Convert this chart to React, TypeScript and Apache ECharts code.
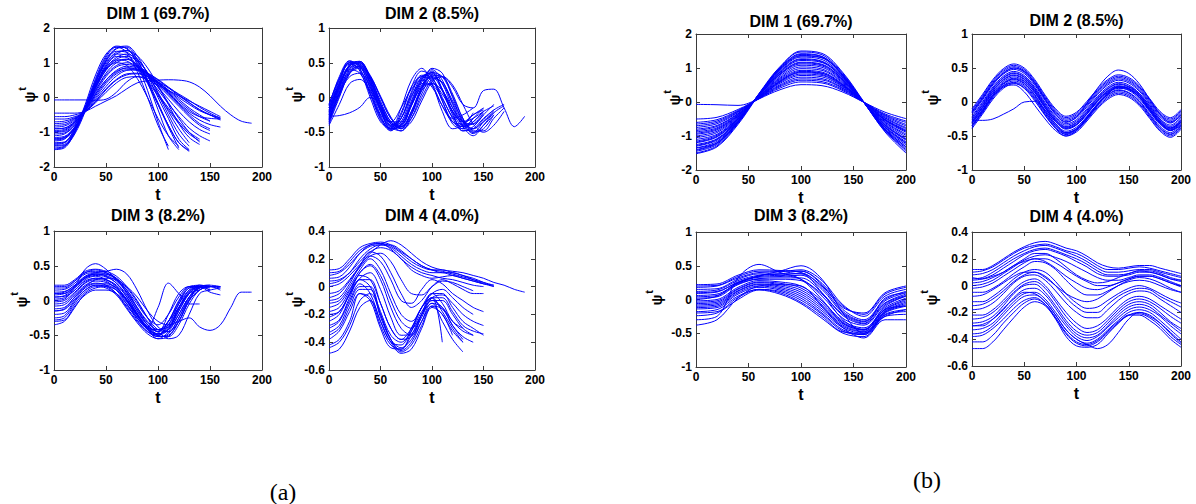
import React, { useEffect, useRef } from "react";
import * as echarts from "echarts";

// ---------- sampling steps (t spacing between consecutive values) ----------
const A_STEP = 10;
const B1_STEP = 20;
const B2_STEP = 10;
const B3_STEP = 20;
const B4_STEP = 10;

// ---------- tick labels ----------
const X_TICKS = [0, 50, 100, 150, 200];
const Y_TICKS_DIM1 = [-2, -1, 0, 1, 2];
const Y_TICKS_DIM23 = [-1, -0.5, 0, 0.5, 1];
const Y_TICKS_DIM4 = [-0.6, -0.4, -0.2, 0, 0.2, 0.4];

const TITLES = ["DIM 1 (69.7%)", "DIM 2 (8.5%)", "DIM 3 (8.2%)", "DIM 4 (4.0%)"];
const PANEL_LABELS = ["(a)", "(b)"];

// ---------- (a) curves, t = 0,10,20,... ----------
const A1_CURVES = [
  [-1.5, -1.45, -1.0, -0.3, 0.5, 1.15, 1.45, 1.42, 0.95, 0.2, -0.7, -1.5],
  [-1.4, -1.38, -1.0, -0.35, 0.45, 1.1, 1.42, 1.48, 1.2, 0.65, 0.0, -0.6, -1.2, -1.5],
  [-1.3, -1.28, -0.9, -0.3, 0.45, 1.05, 1.33, 1.3, 1.0, 0.45, -0.2, -0.85, -1.45],
  [-1.2, -1.15, -0.85, -0.35, 0.3, 0.85, 1.15, 1.25, 1.1, 0.7, 0.15, -0.4, -0.9, -1.3],
  [-1.1, -1.05, -0.8, -0.3, 0.35, 0.85, 1.08, 1.05, 0.8, 0.45, 0.05, -0.35, -0.75, -1.05, -1.25],
  [-1.0, -0.98, -0.75, -0.35, 0.2, 0.65, 0.92, 1.0, 0.9, 0.65, 0.3, -0.05, -0.4, -0.7, -0.92, -1.05],
  [-0.9, -0.88, -0.7, -0.35, 0.1, 0.5, 0.78, 0.9, 0.85, 0.7, 0.5, 0.28, 0.05, -0.15, -0.35, -0.5, -0.65],
  [-0.8, -0.78, -0.62, -0.38, 0.0, 0.4, 0.68, 0.8, 0.78, 0.65, 0.45, 0.22, 0.0, -0.2, -0.38, -0.5, -0.58],
  [-0.7, -0.68, -0.58, -0.4, -0.1, 0.25, 0.52, 0.68, 0.7, 0.6, 0.42, 0.2, -0.05, -0.3, -0.5, -0.68],
  [-0.55, -0.55, -0.5, -0.4, -0.15, 0.15, 0.42, 0.58, 0.6, 0.5, 0.35, 0.2, 0.05, -0.1, -0.25, -0.4, -0.55],
  [-1.45, -1.4, -0.95, -0.2, 0.65, 1.25, 1.45, 1.3, 0.75, 0.0, -0.8, -1.4],
  [-1.25, -1.2, -0.85, -0.3, 0.35, 0.82, 1.0, 0.92, 0.55, 0.0, -0.6, -1.1, -1.4],
  [-0.95, -0.92, -0.72, -0.3, 0.35, 0.9, 1.18, 1.15, 0.88, 0.5, 0.1, -0.3, -0.7, -1.0, -1.2],
  [-1.15, -1.12, -0.85, -0.4, 0.1, 0.5, 0.75, 0.85, 0.8, 0.6, 0.35, 0.05, -0.25, -0.55, -0.8, -0.95],
  [-0.45, -0.45, -0.45, -0.4, -0.25, -0.1, 0.05, 0.25, 0.42, 0.48, 0.5, 0.51, 0.5, 0.45, 0.3, 0.05, -0.25, -0.5, -0.68, -0.74],
  [-0.07, -0.07, -0.07, -0.07, -0.08, -0.05, 0.15, 0.45, 0.6, 0.55, 0.4, 0.15, -0.15, -0.4, -0.55, -0.6, -0.62],
  [-1.35, -1.3, -0.9, -0.25, 0.55, 1.2, 1.48, 1.4, 1.05, 0.5, -0.15, -0.8, -1.3, -1.55],
  [-0.85, -0.82, -0.65, -0.3, 0.2, 0.7, 1.0, 1.1, 0.95, 0.7, 0.4, 0.1, -0.2, -0.5, -0.75, -0.9],
  [-1.48, -1.42, -1.05, -0.4, 0.4, 1.05, 1.4, 1.45, 1.1, 0.45, -0.35, -1.1, -1.5],
  [-1.38, -1.35, -0.98, -0.32, 0.42, 1.0, 1.3, 1.35, 1.12, 0.7, 0.1, -0.5, -1.05, -1.4],
  [-1.22, -1.18, -0.9, -0.38, 0.25, 0.8, 1.1, 1.18, 1.05, 0.72, 0.3, -0.15, -0.6, -1.0, -1.28],
  [-1.05, -1.02, -0.78, -0.32, 0.28, 0.78, 1.05, 1.1, 0.92, 0.6, 0.22, -0.18, -0.55, -0.88, -1.1, -1.25],
  [-0.98, -0.95, -0.72, -0.38, 0.05, 0.45, 0.72, 0.85, 0.82, 0.68, 0.45, 0.18, -0.1, -0.35, -0.55, -0.68],
  [-0.75, -0.73, -0.6, -0.4, -0.05, 0.32, 0.62, 0.78, 0.8, 0.7, 0.52, 0.3, 0.08, -0.15, -0.35, -0.5, -0.62],
  [-1.32, -1.3, -0.95, -0.35, 0.35, 0.95, 1.25, 1.22, 0.9, 0.4, -0.2, -0.8, -1.3, -1.52],
  [-0.62, -0.62, -0.55, -0.42, -0.12, 0.22, 0.5, 0.65, 0.68, 0.6, 0.45, 0.28, 0.1, -0.08, -0.28, -0.45, -0.6],
  [-1.18, -1.15, -0.88, -0.36, 0.3, 0.9, 1.25, 1.35, 1.2, 0.85, 0.35, -0.2, -0.75, -1.15, -1.35],
  [-0.9, -0.88, -0.68, -0.32, 0.15, 0.6, 0.88, 0.95, 0.88, 0.68, 0.42, 0.12, -0.18, -0.45, -0.65, -0.78, -0.85],
];

const A2_CURVES = [
  [-0.12, 0.3, 0.53, 0.42, 0.05, -0.32, -0.48, -0.25, 0.15, 0.38, 0.3, -0.05, -0.38, -0.45, -0.3, -0.15],
  [-0.2, 0.2, 0.5, 0.48, 0.2, -0.2, -0.42, -0.35, 0.0, 0.3, 0.35, 0.1, -0.25, -0.45, -0.35, -0.2],
  [-0.3, 0.1, 0.42, 0.5, 0.3, -0.1, -0.38, -0.4, -0.1, 0.25, 0.4, 0.25, -0.1, -0.4, -0.5, -0.35, -0.2],
  [-0.38, 0.0, 0.35, 0.46, 0.32, 0.0, -0.3, -0.42, -0.25, 0.1, 0.32, 0.3, 0.05, -0.3, -0.5, -0.45, -0.25],
  [-0.25, 0.15, 0.45, 0.5, 0.25, -0.15, -0.4, -0.3, 0.05, 0.3, 0.25, -0.05, -0.35, -0.42, -0.3],
  [-0.15, 0.2, 0.4, 0.35, 0.05, -0.25, -0.35, -0.15, 0.12, 0.25, 0.15, -0.12, -0.3, -0.25, -0.15],
  [-0.35, 0.05, 0.3, 0.35, 0.15, -0.15, -0.35, -0.35, -0.1, 0.15, 0.2, 0.05, -0.2, -0.35, -0.3, -0.2, -0.12],
  [-0.4, -0.1, 0.2, 0.26, 0.1, -0.15, -0.38, -0.42, -0.2, 0.1, 0.2, 0.1, -0.15, -0.35, -0.38, -0.25],
  [-0.28, 0.12, 0.48, 0.52, 0.28, -0.12, -0.42, -0.48, -0.25, 0.15, 0.42, 0.35, 0.0, -0.35, -0.52, -0.4, -0.25],
  [-0.18, 0.22, 0.5, 0.45, 0.12, -0.28, -0.46, -0.3, 0.08, 0.32, 0.28, 0.0, -0.3, -0.48, -0.42, -0.25, -0.1],
  [-0.3, 0.05, 0.38, 0.45, 0.3, 0.0, -0.3, -0.42, -0.3, 0.0, 0.25, 0.3, 0.15, -0.1, -0.15, 0.1, 0.12, -0.15, -0.42, -0.27],
  [-0.27, -0.26, -0.22, -0.14, 0.0, -0.1, -0.35, -0.45, -0.2, 0.15, 0.3, 0.1, -0.2, -0.35, -0.25, -0.15],
  [-0.1, 0.28, 0.5, 0.38, 0.0, -0.35, -0.44, -0.15, 0.25, 0.42, 0.2, -0.2, -0.45, -0.4, -0.25, -0.18],
  [-0.22, 0.18, 0.46, 0.5, 0.22, -0.18, -0.45, -0.42, -0.12, 0.22, 0.38, 0.2, -0.15, -0.42, -0.55, -0.4, -0.22, -0.12],
  [-0.15, 0.25, 0.52, 0.46, 0.15, -0.25, -0.47, -0.38, -0.05, 0.28, 0.36, 0.12, -0.22, -0.48, -0.45, -0.3, -0.18],
  [-0.32, 0.08, 0.4, 0.48, 0.28, -0.05, -0.35, -0.44, -0.22, 0.12, 0.36, 0.3, 0.02, -0.3, -0.48, -0.48, -0.3, -0.15],
  [-0.24, 0.16, 0.47, 0.52, 0.26, -0.16, -0.44, -0.4, -0.08, 0.26, 0.33, 0.12, -0.2, -0.4, -0.38, -0.22],
  [-0.36, 0.02, 0.34, 0.44, 0.3, 0.02, -0.28, -0.45, -0.35, -0.05, 0.22, 0.3, 0.18, -0.1, -0.38, -0.5, -0.4, -0.2],
  [-0.1, 0.26, 0.48, 0.4, 0.08, -0.3, -0.45, -0.22, 0.15, 0.3, 0.18, -0.12, -0.35, -0.38, -0.22],
  [-0.2, 0.18, 0.44, 0.44, 0.18, -0.2, -0.4, -0.3, 0.02, 0.2, 0.18, -0.02, -0.28, -0.42, -0.35, -0.2],
  [-0.33, 0.06, 0.36, 0.42, 0.22, -0.1, -0.38, -0.48, -0.3, 0.05, 0.28, 0.22, -0.05, -0.32, -0.45, -0.35, -0.22],
  [-0.26, 0.14, 0.45, 0.5, 0.3, -0.08, -0.36, -0.38, -0.12, 0.18, 0.3, 0.2, -0.08, -0.35, -0.45, -0.32, -0.18, -0.1],
];

const A3_CURVES = [
  [0.22, 0.22, 0.3, 0.42, 0.45, 0.42, 0.35, 0.2, 0.0, -0.25, -0.45, -0.3, 0.0, 0.2, 0.22],
  [0.15, 0.16, 0.25, 0.38, 0.4, 0.38, 0.3, 0.1, -0.15, -0.35, -0.45, -0.2, 0.1, 0.2, 0.18],
  [0.08, 0.1, 0.2, 0.32, 0.36, 0.34, 0.25, 0.05, -0.2, -0.4, -0.5, -0.35, -0.05, 0.18, 0.2, 0.15],
  [0.02, 0.04, 0.15, 0.28, 0.32, 0.3, 0.2, 0.0, -0.25, -0.42, -0.48, -0.4, -0.15, 0.1, 0.2, 0.12, 0.08],
  [-0.05, -0.03, 0.1, 0.25, 0.3, 0.28, 0.15, -0.05, -0.28, -0.45, -0.5, -0.3, -0.05, 0.15, 0.18],
  [-0.12, -0.1, 0.05, 0.2, 0.25, 0.22, 0.1, -0.1, -0.3, -0.45, -0.52, -0.5, -0.3, 0.0, 0.15, 0.2, 0.2],
  [-0.2, -0.18, 0.0, 0.15, 0.22, 0.2, 0.1, -0.08, -0.25, -0.4, -0.42, -0.3, -0.1, 0.1, 0.15],
  [-0.28, -0.25, -0.05, 0.12, 0.2, 0.18, 0.08, -0.12, -0.32, -0.48, -0.55, -0.45, -0.2, 0.05, 0.18, 0.2],
  [-0.35, -0.3, -0.1, 0.1, 0.18, 0.2, 0.15, 0.0, -0.2, -0.38, -0.45, -0.55, -0.5, -0.2, 0.1, 0.15, 0.18],
  [0.0, 0.02, 0.2, 0.45, 0.53, 0.45, 0.3, 0.15, -0.05, -0.25, -0.35, -0.2, 0.05, 0.2, 0.2, 0.15],
  [0.1, 0.12, 0.22, 0.35, 0.4, 0.42, 0.45, 0.38, 0.15, -0.15, -0.38, -0.45, -0.3, 0.0, 0.2, 0.22, 0.2],
  [0.05, 0.06, 0.15, 0.3, 0.35, 0.3, 0.2, 0.0, -0.2, -0.38, -0.1, 0.25, 0.1, -0.05, -0.05],
  [-0.15, -0.12, 0.05, 0.2, 0.3, 0.32, 0.3, 0.2, 0.05, -0.15, -0.3, -0.35, -0.3, -0.25, -0.38, -0.43, -0.35, -0.1, 0.12, 0.12],
  [0.18, 0.18, 0.28, 0.4, 0.42, 0.4, 0.32, 0.15, -0.1, -0.32, -0.42, -0.38, -0.1, 0.15, 0.22, 0.2],
  [-0.08, -0.06, 0.08, 0.22, 0.28, 0.26, 0.18, 0.0, -0.22, -0.4, -0.48, -0.42, -0.2, 0.05, 0.18, 0.2, 0.15],
  [0.2, 0.2, 0.28, 0.4, 0.44, 0.4, 0.3, 0.12, -0.12, -0.35, -0.48, -0.4, -0.12, 0.12, 0.22, 0.2],
  [0.12, 0.13, 0.22, 0.34, 0.38, 0.36, 0.28, 0.12, -0.1, -0.3, -0.42, -0.35, -0.1, 0.12, 0.2, 0.18],
  [-0.02, 0.0, 0.12, 0.26, 0.32, 0.3, 0.22, 0.05, -0.18, -0.38, -0.5, -0.52, -0.35, -0.05, 0.15, 0.2, 0.18],
  [-0.15, -0.13, 0.02, 0.18, 0.24, 0.24, 0.18, 0.02, -0.2, -0.4, -0.5, -0.42, -0.15, 0.1, 0.2],
  [-0.25, -0.22, -0.02, 0.15, 0.22, 0.22, 0.15, -0.02, -0.22, -0.42, -0.52, -0.48, -0.25, 0.02, 0.18, 0.2],
  [0.05, 0.07, 0.18, 0.32, 0.38, 0.38, 0.32, 0.18, -0.02, -0.25, -0.42, -0.45, -0.25, 0.05, 0.2, 0.22],
  [-0.3, -0.28, -0.08, 0.08, 0.15, 0.15, 0.1, -0.05, -0.25, -0.42, -0.55, -0.52, -0.3, 0.0, 0.15, 0.2, 0.2],
  [0.1, 0.1, 0.2, 0.33, 0.38, 0.35, 0.25, 0.08, -0.15, -0.35, -0.45, -0.3, -0.02, 0.18, 0.2],
];

const A4_CURVES = [
  [0.12, 0.13, 0.2, 0.28, 0.31, 0.32, 0.3, 0.25, 0.2, 0.15, 0.12, 0.1, 0.1, 0.08, 0.06, 0.03, 0.0],
  [0.08, 0.1, 0.16, 0.24, 0.29, 0.3, 0.28, 0.22, 0.16, 0.12, 0.1, 0.1, 0.08, 0.06, 0.04, 0.02, 0.0],
  [0.04, 0.05, 0.1, 0.18, 0.25, 0.28, 0.26, 0.2, 0.12, 0.08, 0.06, 0.07, 0.08, 0.06, 0.04, 0.02, 0.01],
  [0.0, 0.02, 0.08, 0.16, 0.24, 0.3, 0.33, 0.3, 0.24, 0.18, 0.14, 0.12, 0.11, 0.1, 0.08, 0.06, 0.03, 0.01, -0.02, -0.04],
  [-0.05, -0.03, 0.05, 0.15, 0.25, 0.22, 0.1, -0.05, -0.15, -0.1, 0.0, 0.05, 0.02, -0.02, -0.05, -0.05],
  [-0.12, -0.1, 0.0, 0.12, 0.2, 0.12, -0.05, -0.2, -0.25, -0.15, -0.05, -0.02, -0.08, -0.15, -0.2],
  [-0.15, -0.12, -0.02, 0.08, 0.05, -0.12, -0.3, -0.38, -0.3, -0.15, -0.05, -0.12, -0.25, -0.3],
  [-0.2, -0.18, -0.05, 0.05, 0.0, -0.18, -0.35, -0.4, -0.32, -0.18, -0.1, -0.15, -0.25, -0.32, -0.35],
  [-0.3, -0.25, -0.1, 0.02, -0.05, -0.25, -0.4, -0.42, -0.3, -0.15, -0.08, -0.18, -0.3, -0.4],
  [-0.38, -0.32, -0.18, -0.05, -0.08, -0.28, -0.42, -0.45, -0.35, -0.2, -0.12, -0.25, -0.38, -0.47],
  [-0.48, -0.45, -0.32, -0.15, -0.1, -0.25, -0.4, -0.48, -0.45, -0.3, -0.15, -0.2, -0.35],
  [-0.25, -0.2, -0.05, 0.1, 0.15, 0.05, -0.15, -0.3, -0.35, -0.2, -0.05, -0.05, -0.15, -0.25, -0.3, -0.35],
  [-0.42, -0.38, -0.25, -0.05, -0.1, -0.3, -0.44, -0.45, -0.32, -0.15, -0.08, -0.4],
  [-0.1, -0.08, 0.02, 0.15, 0.22, 0.18, 0.05, -0.1, -0.12, -0.02, 0.05, 0.02, -0.05, -0.1, -0.15, -0.18],
  [0.06, 0.07, 0.14, 0.24, 0.3, 0.31, 0.27, 0.2, 0.14, 0.1, 0.08, 0.06, 0.05, 0.03, 0.01, 0.0],
  [-0.33, -0.28, -0.12, 0.0, 0.0, -0.2, -0.38, -0.44, -0.38, -0.25, -0.14, -0.16, -0.28, -0.36, -0.4],
  [0.1, 0.11, 0.18, 0.26, 0.3, 0.31, 0.29, 0.24, 0.18, 0.14, 0.12, 0.12, 0.1, 0.08, 0.05, 0.02],
  [0.02, 0.04, 0.1, 0.2, 0.27, 0.3, 0.3, 0.26, 0.2, 0.15, 0.12, 0.11, 0.09, 0.07, 0.05, 0.03, 0.01],
  [-0.08, -0.05, 0.04, 0.14, 0.22, 0.24, 0.18, 0.05, -0.05, -0.06, 0.0, 0.04, 0.03, 0.0, -0.03],
  [-0.18, -0.15, -0.03, 0.1, 0.16, 0.08, -0.1, -0.25, -0.3, -0.2, -0.08, -0.06, -0.12, -0.2, -0.25, -0.28],
  [-0.28, -0.24, -0.08, 0.05, 0.05, -0.12, -0.3, -0.38, -0.36, -0.22, -0.1, -0.1, -0.2, -0.3, -0.35],
  [-0.35, -0.3, -0.15, -0.02, -0.02, -0.22, -0.38, -0.46, -0.4, -0.25, -0.12, -0.15, -0.28, -0.38],
  [-0.22, -0.18, -0.06, 0.06, 0.1, -0.02, -0.22, -0.35, -0.34, -0.2, -0.08, -0.08, -0.18, -0.28, -0.32, -0.34],
  [-0.44, -0.4, -0.28, -0.1, -0.05, -0.2, -0.38, -0.47, -0.42, -0.28, -0.14, -0.2, -0.32, -0.4],
];

// ---------- (b) curves ----------
const B1_CURVES = [
  [-1.5, -1.29, -0.63, 0.25, 1.04, 1.47, 1.39, 0.83, -0.02, -0.86, -1.4],
  [-1.45, -1.25, -0.61, 0.24, 1.0, 1.42, 1.34, 0.8, -0.02, -0.83, -1.36],
  [-1.4, -1.2, -0.59, 0.23, 0.97, 1.37, 1.3, 0.77, -0.02, -0.81, -1.31],
  [-1.35, -1.16, -0.57, 0.22, 0.93, 1.32, 1.25, 0.74, -0.02, -0.78, -1.26],
  [-1.3, -1.12, -0.55, 0.21, 0.9, 1.27, 1.2, 0.72, -0.02, -0.75, -1.22],
  [-1.25, -1.08, -0.52, 0.21, 0.86, 1.22, 1.16, 0.69, -0.02, -0.72, -1.17],
  [-1.2, -1.03, -0.5, 0.2, 0.83, 1.17, 1.11, 0.66, -0.02, -0.69, -1.12],
  [-1.1, -0.95, -0.46, 0.18, 0.76, 1.08, 1.02, 0.61, -0.02, -0.63, -1.03],
  [-1.0, -0.86, -0.42, 0.16, 0.69, 0.98, 0.93, 0.55, -0.02, -0.58, -0.94],
  [-0.95, -0.82, -0.4, 0.16, 0.66, 0.93, 0.88, 0.52, -0.01, -0.55, -0.89],
  [-0.88, -0.76, -0.37, 0.14, 0.61, 0.86, 0.81, 0.48, -0.01, -0.51, -0.82],
  [-0.8, -0.69, -0.34, 0.13, 0.55, 0.78, 0.74, 0.44, -0.01, -0.46, -0.75],
  [-0.7, -0.6, -0.29, 0.11, 0.48, 0.68, 0.65, 0.39, -0.01, -0.4, -0.66],
  [-0.6, -0.52, -0.25, 0.1, 0.41, 0.59, 0.56, 0.33, -0.01, -0.35, -0.56],
  [-0.5, -0.45, -0.22, 0.09, 0.36, 0.51, 0.48, 0.29, -0.01, -0.3, -0.49],
  [-0.07, -0.08, -0.1, 0.12, 0.6, 0.88, 0.84, 0.5, -0.01, -0.52, -0.85],
  [-1.52, -1.32, -0.66, 0.22, 1.02, 1.5, 1.43, 0.86, 0.0, -0.88, -1.5],
  [-1.15, -0.98, -0.48, 0.19, 0.8, 1.12, 1.06, 0.63, -0.02, -0.66, -1.08],
  [-1.42, -1.22, -0.6, 0.24, 0.98, 1.4, 1.33, 0.79, -0.02, -0.82, -1.45],
  [-1.28, -1.1, -0.54, 0.21, 0.88, 1.25, 1.18, 0.7, -0.02, -0.74, -1.2],
  [-1.18, -1.01, -0.49, 0.2, 0.82, 1.15, 1.09, 0.65, -0.02, -0.68, -1.1],
  [-1.05, -0.9, -0.44, 0.17, 0.72, 1.03, 0.97, 0.58, -0.02, -0.6, -0.98],
  [-0.92, -0.79, -0.39, 0.15, 0.63, 0.9, 0.85, 0.5, -0.01, -0.53, -0.86],
  [-0.84, -0.72, -0.35, 0.14, 0.58, 0.82, 0.78, 0.46, -0.01, -0.48, -0.78],
  [-0.75, -0.64, -0.31, 0.12, 0.51, 0.73, 0.69, 0.41, -0.01, -0.43, -0.7],
  [-0.65, -0.56, -0.27, 0.1, 0.45, 0.64, 0.6, 0.36, -0.01, -0.38, -0.6],
  [-1.35, -1.2, -0.58, 0.22, 0.95, 1.35, 1.3, 0.76, -0.02, -0.8, -1.32],
];

const B2_CURVES = [
  [-0.1, 0.11, 0.33, 0.49, 0.56, 0.5, 0.33, 0.1, -0.1, -0.21, -0.15, 0.01, 0.19, 0.33, 0.4, 0.36, 0.24, 0.05, -0.14, -0.23, -0.11],
  [-0.14, 0.07, 0.29, 0.45, 0.52, 0.46, 0.29, 0.06, -0.14, -0.25, -0.19, -0.03, 0.15, 0.29, 0.36, 0.32, 0.2, 0.01, -0.18, -0.27, -0.15],
  [-0.18, 0.03, 0.25, 0.41, 0.48, 0.42, 0.25, 0.02, -0.18, -0.29, -0.23, -0.07, 0.11, 0.25, 0.32, 0.28, 0.16, -0.03, -0.22, -0.31, -0.19],
  [-0.21, 0.0, 0.22, 0.38, 0.45, 0.39, 0.22, -0.01, -0.21, -0.32, -0.26, -0.1, 0.08, 0.22, 0.29, 0.25, 0.13, -0.06, -0.25, -0.34, -0.22],
  [-0.23, -0.02, 0.2, 0.36, 0.43, 0.37, 0.2, -0.03, -0.23, -0.34, -0.28, -0.12, 0.06, 0.2, 0.27, 0.23, 0.11, -0.08, -0.27, -0.36, -0.24],
  [-0.26, -0.05, 0.17, 0.33, 0.4, 0.34, 0.17, -0.06, -0.26, -0.37, -0.31, -0.15, 0.03, 0.17, 0.24, 0.2, 0.08, -0.11, -0.3, -0.39, -0.27],
  [-0.29, -0.08, 0.14, 0.3, 0.37, 0.31, 0.14, -0.09, -0.29, -0.4, -0.34, -0.18, 0.0, 0.14, 0.21, 0.17, 0.05, -0.14, -0.33, -0.42, -0.3],
  [-0.32, -0.11, 0.11, 0.27, 0.34, 0.28, 0.11, -0.12, -0.32, -0.43, -0.37, -0.21, -0.03, 0.11, 0.18, 0.14, 0.02, -0.17, -0.36, -0.45, -0.33],
  [-0.35, -0.14, 0.08, 0.24, 0.31, 0.25, 0.08, -0.15, -0.35, -0.46, -0.4, -0.24, -0.06, 0.08, 0.15, 0.11, -0.01, -0.2, -0.39, -0.48, -0.36],
  [-0.39, -0.18, 0.04, 0.2, 0.27, 0.21, 0.04, -0.19, -0.39, -0.5, -0.44, -0.28, -0.1, 0.04, 0.11, 0.07, -0.05, -0.24, -0.43, -0.52, -0.4],
  [-0.35, -0.15, 0.08, 0.22, 0.25, 0.15, -0.05, -0.25, -0.42, -0.5, -0.42, -0.25, -0.05, 0.12, 0.22, 0.22, 0.12, -0.05, -0.25, -0.38, -0.3],
  [-0.27, -0.27, -0.25, -0.18, -0.1, 0.0, 0.01, -0.12, -0.32, -0.45, -0.4, -0.24, -0.05, 0.12, 0.22, 0.2, 0.1, -0.08, -0.28, -0.42, -0.32],
  [-0.15, 0.05, 0.27, 0.42, 0.5, 0.45, 0.28, 0.04, -0.18, -0.3, -0.22, -0.02, 0.2, 0.38, 0.47, 0.42, 0.27, 0.04, -0.18, -0.3, -0.2],
  [-0.3, -0.09, 0.13, 0.28, 0.35, 0.3, 0.14, -0.08, -0.28, -0.38, -0.33, -0.17, 0.01, 0.15, 0.22, 0.19, 0.07, -0.12, -0.31, -0.4, -0.28],
  [-0.12, 0.09, 0.31, 0.47, 0.54, 0.48, 0.31, 0.08, -0.12, -0.23, -0.17, -0.01, 0.17, 0.31, 0.38, 0.34, 0.22, 0.03, -0.16, -0.25, -0.13],
  [-0.16, 0.05, 0.27, 0.43, 0.5, 0.44, 0.27, 0.04, -0.16, -0.27, -0.21, -0.05, 0.13, 0.27, 0.34, 0.3, 0.18, -0.01, -0.2, -0.29, -0.17],
  [-0.25, -0.04, 0.19, 0.35, 0.42, 0.36, 0.19, -0.05, -0.25, -0.36, -0.3, -0.14, 0.05, 0.19, 0.26, 0.22, 0.1, -0.1, -0.29, -0.38, -0.26],
  [-0.28, -0.07, 0.16, 0.32, 0.39, 0.33, 0.16, -0.08, -0.28, -0.39, -0.33, -0.17, 0.02, 0.16, 0.23, 0.19, 0.07, -0.13, -0.32, -0.41, -0.29],
  [-0.34, -0.13, 0.1, 0.26, 0.33, 0.27, 0.1, -0.14, -0.34, -0.45, -0.39, -0.23, -0.04, 0.1, 0.17, 0.13, 0.01, -0.19, -0.38, -0.47, -0.35],
  [-0.37, -0.16, 0.06, 0.22, 0.29, 0.23, 0.06, -0.17, -0.37, -0.48, -0.42, -0.26, -0.08, 0.06, 0.13, 0.09, -0.03, -0.22, -0.41, -0.5, -0.38],
  [-0.3, -0.12, 0.1, 0.24, 0.28, 0.2, 0.02, -0.2, -0.38, -0.47, -0.4, -0.22, -0.03, 0.13, 0.2, 0.18, 0.08, -0.1, -0.3, -0.42, -0.34],
];

const B3_CURVES = [
  [0.22, 0.23, 0.36, 0.44, 0.43, 0.4, 0.2, -0.12, -0.2, 0.1, 0.2],
  [0.18, 0.2, 0.32, 0.4, 0.41, 0.44, 0.28, -0.08, -0.25, 0.05, 0.15],
  [0.12, 0.14, 0.28, 0.36, 0.38, 0.42, 0.22, -0.15, -0.3, 0.0, 0.12],
  [0.06, 0.08, 0.24, 0.33, 0.34, 0.36, 0.15, -0.2, -0.33, -0.05, 0.08],
  [0.02, 0.04, 0.22, 0.3, 0.3, 0.28, 0.05, -0.28, -0.38, -0.08, 0.05],
  [-0.02, 0.0, 0.18, 0.28, 0.26, 0.2, -0.02, -0.32, -0.42, -0.12, 0.02],
  [-0.06, -0.04, 0.15, 0.25, 0.22, 0.14, -0.08, -0.36, -0.45, -0.15, -0.02],
  [-0.1, -0.08, 0.12, 0.22, 0.18, 0.08, -0.14, -0.4, -0.48, -0.18, -0.06],
  [-0.14, -0.12, 0.08, 0.18, 0.14, 0.02, -0.2, -0.45, -0.52, -0.2, -0.1],
  [-0.18, -0.15, 0.05, 0.15, 0.1, -0.04, -0.25, -0.48, -0.5, -0.22, -0.15],
  [-0.24, -0.2, 0.0, 0.14, 0.08, -0.06, -0.28, -0.5, -0.55, -0.25, -0.22],
  [-0.3, -0.25, 0.32, 0.52, 0.4, 0.3, 0.0, -0.35, -0.45, -0.15, -0.1],
  [-0.38, -0.3, 0.02, 0.2, 0.22, 0.2, -0.1, -0.42, -0.57, -0.3, -0.3],
  [0.1, 0.12, 0.25, 0.35, 0.42, 0.5, 0.3, -0.2, -0.5, -0.25, -0.15],
  [0.0, 0.05, 0.25, 0.35, 0.38, 0.38, 0.1, -0.3, -0.45, -0.1, 0.05],
  [0.15, 0.16, 0.3, 0.38, 0.36, 0.3, 0.08, -0.22, -0.35, 0.02, 0.1],
  [0.2, 0.21, 0.34, 0.42, 0.42, 0.42, 0.24, -0.1, -0.22, 0.08, 0.18],
  [0.09, 0.11, 0.26, 0.34, 0.36, 0.39, 0.18, -0.18, -0.32, -0.02, 0.1],
  [0.04, 0.06, 0.23, 0.31, 0.32, 0.32, 0.1, -0.24, -0.36, -0.06, 0.06],
  [-0.04, -0.02, 0.16, 0.26, 0.24, 0.17, -0.05, -0.34, -0.44, -0.14, 0.0],
  [-0.08, -0.06, 0.13, 0.23, 0.2, 0.11, -0.11, -0.38, -0.47, -0.17, -0.04],
  [-0.12, -0.1, 0.1, 0.2, 0.16, 0.05, -0.17, -0.42, -0.5, -0.19, -0.08],
  [-0.2, -0.18, 0.03, 0.15, 0.12, -0.01, -0.22, -0.47, -0.52, -0.23, -0.18],
];

const B4_CURVES = [
  [0.12, 0.12, 0.15, 0.2, 0.25, 0.29, 0.32, 0.33, 0.31, 0.28, 0.26, 0.22, 0.17, 0.14, 0.13, 0.14, 0.15, 0.15, 0.13, 0.11, 0.09],
  [0.08, 0.09, 0.12, 0.17, 0.22, 0.26, 0.29, 0.3, 0.28, 0.25, 0.22, 0.18, 0.13, 0.1, 0.1, 0.11, 0.12, 0.12, 0.1, 0.08, 0.06],
  [0.04, 0.05, 0.08, 0.13, 0.18, 0.23, 0.26, 0.27, 0.25, 0.22, 0.18, 0.14, 0.09, 0.07, 0.07, 0.08, 0.1, 0.1, 0.08, 0.05, 0.03],
  [0.0, 0.01, 0.04, 0.09, 0.14, 0.19, 0.22, 0.23, 0.21, 0.18, 0.14, 0.1, 0.06, 0.04, 0.04, 0.06, 0.08, 0.08, 0.06, 0.03, 0.0],
  [0.06, 0.05, 0.07, 0.1, 0.15, 0.2, 0.24, 0.24, 0.2, 0.14, 0.08, 0.04, 0.02, 0.03, 0.06, 0.09, 0.11, 0.1, 0.08, 0.05, 0.04],
  [0.02, 0.03, 0.06, 0.1, 0.15, 0.18, 0.2, 0.18, 0.13, 0.07, 0.02, -0.02, -0.03, -0.01, 0.02, 0.05, 0.07, 0.07, 0.05, 0.02, 0.0],
  [-0.05, -0.05, -0.02, 0.03, 0.09, 0.14, 0.18, 0.17, 0.12, 0.04, -0.03, -0.07, -0.07, -0.04, 0.0, 0.03, 0.04, 0.03, 0.0, -0.03, -0.05],
  [-0.08, -0.07, -0.03, 0.02, 0.07, 0.1, 0.1, 0.06, 0.0, -0.06, -0.1, -0.12, -0.1, -0.05, 0.0, 0.04, 0.06, 0.05, 0.02, -0.02, -0.05],
  [-0.12, -0.12, -0.08, -0.02, 0.05, 0.1, 0.12, 0.1, 0.03, -0.06, -0.13, -0.17, -0.16, -0.11, -0.06, -0.02, 0.0, -0.02, -0.06, -0.1, -0.13],
  [-0.18, -0.17, -0.13, -0.06, 0.02, 0.07, 0.08, 0.04, -0.04, -0.13, -0.2, -0.24, -0.24, -0.18, -0.11, -0.06, -0.04, -0.05, -0.1, -0.15, -0.2],
  [-0.22, -0.22, -0.18, -0.11, -0.03, 0.03, 0.05, 0.0, -0.1, -0.2, -0.28, -0.32, -0.3, -0.24, -0.16, -0.1, -0.08, -0.1, -0.15, -0.2, -0.25],
  [-0.28, -0.27, -0.23, -0.15, -0.06, 0.0, 0.01, -0.05, -0.15, -0.26, -0.34, -0.37, -0.35, -0.28, -0.2, -0.14, -0.12, -0.14, -0.2, -0.27, -0.32],
  [-0.33, -0.32, -0.28, -0.2, -0.12, -0.06, -0.05, -0.1, -0.2, -0.3, -0.38, -0.41, -0.38, -0.31, -0.24, -0.18, -0.16, -0.18, -0.23, -0.3, -0.36],
  [-0.38, -0.37, -0.32, -0.25, -0.17, -0.11, -0.09, -0.14, -0.24, -0.35, -0.42, -0.44, -0.41, -0.34, -0.27, -0.22, -0.2, -0.23, -0.28, -0.35, -0.42],
  [-0.47, -0.47, -0.42, -0.33, -0.24, -0.16, -0.12, -0.15, -0.25, -0.38, -0.45, -0.46, -0.44, -0.36, -0.28, -0.22, -0.22, -0.26, -0.32, -0.4, -0.46],
  [-0.3, -0.3, -0.25, -0.17, -0.1, -0.05, -0.06, -0.12, -0.22, -0.33, -0.4, -0.44, -0.47, -0.44, -0.35, -0.25, -0.2, -0.22, -0.28, -0.36, -0.43],
  [0.1, 0.11, 0.14, 0.19, 0.24, 0.28, 0.3, 0.31, 0.29, 0.26, 0.24, 0.2, 0.15, 0.12, 0.12, 0.13, 0.14, 0.13, 0.11, 0.09, 0.07],
  [0.05, 0.06, 0.1, 0.15, 0.2, 0.24, 0.27, 0.28, 0.26, 0.23, 0.2, 0.16, 0.11, 0.08, 0.08, 0.09, 0.11, 0.11, 0.09, 0.06, 0.04],
  [-0.02, -0.01, 0.02, 0.07, 0.12, 0.17, 0.2, 0.2, 0.17, 0.12, 0.07, 0.03, 0.0, 0.0, 0.02, 0.05, 0.07, 0.07, 0.05, 0.02, -0.01],
  [-0.15, -0.14, -0.1, -0.04, 0.03, 0.08, 0.1, 0.07, 0.0, -0.09, -0.16, -0.2, -0.2, -0.14, -0.08, -0.04, -0.02, -0.03, -0.08, -0.12, -0.16],
  [-0.25, -0.24, -0.2, -0.13, -0.05, 0.01, 0.03, -0.02, -0.12, -0.23, -0.31, -0.35, -0.33, -0.26, -0.18, -0.12, -0.1, -0.12, -0.17, -0.23, -0.28],
  [-0.3, -0.29, -0.25, -0.18, -0.09, -0.03, -0.02, -0.07, -0.17, -0.28, -0.36, -0.39, -0.37, -0.3, -0.22, -0.16, -0.14, -0.16, -0.22, -0.28, -0.34],
  [-0.36, -0.35, -0.3, -0.22, -0.14, -0.08, -0.07, -0.12, -0.22, -0.33, -0.4, -0.43, -0.4, -0.33, -0.26, -0.2, -0.18, -0.2, -0.26, -0.33, -0.4],
  [-0.42, -0.42, -0.37, -0.28, -0.2, -0.13, -0.1, -0.14, -0.24, -0.36, -0.43, -0.45, -0.42, -0.35, -0.28, -0.22, -0.21, -0.24, -0.3, -0.38, -0.44],
];

// ---------- layout / style ----------
const FONT = '"Liberation Sans", Arial, Helvetica, sans-serif';
const AXIS_COLOR = "#3a3a3a";
const LINE_COLOR = "#0000ff";

type Panel = {
  title: string;
  curves: number[][];
  step: number;
  yTicks: number[];
  box: [number, number, number, number];
  titleY: number;
  psi: [number, number];
};

const PANELS: Panel[] = [
  { title: TITLES[0], curves: A1_CURVES, step: A_STEP, yTicks: Y_TICKS_DIM1, box: [54, 28, 208, 139], titleY: 13, psi: [30, 97] },
  { title: TITLES[1], curves: A2_CURVES, step: A_STEP, yTicks: Y_TICKS_DIM23, box: [329, 28, 206, 139], titleY: 13, psi: [297, 97] },
  { title: TITLES[2], curves: A3_CURVES, step: A_STEP, yTicks: Y_TICKS_DIM23, box: [54, 231, 208, 139], titleY: 215, psi: [22, 302] },
  { title: TITLES[3], curves: A4_CURVES, step: A_STEP, yTicks: Y_TICKS_DIM4, box: [329, 231, 206, 139], titleY: 215, psi: [297, 302] },
  { title: TITLES[0], curves: B1_CURVES, step: B1_STEP, yTicks: Y_TICKS_DIM1, box: [696, 34, 210, 136], titleY: 21, psi: [675, 100] },
  { title: TITLES[1], curves: B2_CURVES, step: B2_STEP, yTicks: Y_TICKS_DIM23, box: [972, 34, 209, 136], titleY: 20, psi: [933, 100] },
  { title: TITLES[2], curves: B3_CURVES, step: B3_STEP, yTicks: Y_TICKS_DIM23, box: [696, 232, 210, 135], titleY: 215, psi: [657, 300] },
  { title: TITLES[3], curves: B4_CURVES, step: B4_STEP, yTicks: Y_TICKS_DIM4, box: [972, 232, 209, 134], titleY: 216, psi: [932, 300] },
];

const axisLineStyle = { color: AXIS_COLOR, width: 1 };
const labelStyle = { fontFamily: FONT, fontWeight: "bold" as const, fontSize: 12, color: "#000" };

function buildOption() {
  const grid = PANELS.map((p) => ({
    left: p.box[0],
    top: p.box[1],
    width: p.box[2],
    height: p.box[3],
    containLabel: false,
  }));

  const xMin = X_TICKS[0];
  const xMax = X_TICKS[X_TICKS.length - 1];
  const xInt = X_TICKS[1] - X_TICKS[0];

  const xAxis: any[] = [];
  const yAxis: any[] = [];
  PANELS.forEach((p, i) => {
    xAxis.push({
      gridIndex: i,
      type: "value",
      min: xMin,
      max: xMax,
      interval: xInt,
      position: "bottom",
      axisLine: { show: true, onZero: false, lineStyle: axisLineStyle },
      axisTick: { show: true, inside: true, length: 4, lineStyle: axisLineStyle },
      axisLabel: { ...labelStyle, margin: 4 },
      splitLine: { show: false },
      name: "t",
      nameLocation: "middle",
      nameGap: 19,
      nameTextStyle: { fontFamily: FONT, fontWeight: "bold", fontSize: 16, color: "#000" },
    });
  });
  PANELS.forEach((p, i) => {
    xAxis.push({
      gridIndex: i,
      type: "value",
      min: xMin,
      max: xMax,
      interval: xInt,
      position: "top",
      axisLine: { show: true, onZero: false, lineStyle: axisLineStyle },
      axisTick: { show: true, inside: true, length: 4, lineStyle: axisLineStyle },
      axisLabel: { show: false },
      splitLine: { show: false },
    });
  });
  PANELS.forEach((p, i) => {
    const t = p.yTicks;
    yAxis.push({
      gridIndex: i,
      type: "value",
      min: t[0],
      max: t[t.length - 1],
      interval: Math.round((t[1] - t[0]) * 1000) / 1000,
      position: "left",
      axisLine: { show: true, onZero: false, lineStyle: axisLineStyle },
      axisTick: { show: true, inside: true, length: 4, lineStyle: axisLineStyle },
      axisLabel: { ...labelStyle, margin: 4 },
      splitLine: { show: false },
    });
  });
  PANELS.forEach((p, i) => {
    const t = p.yTicks;
    yAxis.push({
      gridIndex: i,
      type: "value",
      min: t[0],
      max: t[t.length - 1],
      interval: Math.round((t[1] - t[0]) * 1000) / 1000,
      position: "right",
      axisLine: { show: true, onZero: false, lineStyle: axisLineStyle },
      axisTick: { show: true, inside: true, length: 4, lineStyle: axisLineStyle },
      axisLabel: { show: false },
      splitLine: { show: false },
    });
  });

  const series: any[] = [];
  PANELS.forEach((p, i) => {
    p.curves.forEach((ys) => {
      series.push({
        type: "line",
        xAxisIndex: i,
        yAxisIndex: i,
        data: ys.map((y, k) => [k * p.step, y]),
        symbol: "none",
        showSymbol: false,
        smooth: 0.35,
        clip: true,
        silent: true,
        lineStyle: { color: LINE_COLOR, width: 1 },
        z: 2,
      });
    });
  });

  const centered = {
    textAlign: "center",
    textVerticalAlign: "middle",
    align: "center",
    verticalAlign: "middle",
  };

  const graphic: any[] = [];
  PANELS.forEach((p) => {
    graphic.push({
      type: "text",
      x: p.box[0] + p.box[2] / 2,
      y: p.titleY,
      style: { text: p.title, fill: "#000", font: `bold 16px ${FONT}`, ...centered },
    });
    graphic.push({
      type: "group",
      x: p.psi[0],
      y: p.psi[1],
      rotation: Math.PI / 2,
      children: [
        {
          type: "text",
          x: 0,
          y: 0,
          style: { text: "ψ", fill: "#000", font: `bold 14px ${FONT}`, ...centered },
        },
        {
          type: "text",
          x: 8,
          y: -8,
          style: { text: "t", fill: "#000", font: `bold 11px ${FONT}`, ...centered },
        },
      ],
    });
  });
  graphic.push({
    type: "text",
    x: 283,
    y: 492,
    style: { text: PANEL_LABELS[0], fill: "#000", font: `24px "Liberation Serif", "DejaVu Serif", serif`, ...centered },
  });
  graphic.push({
    type: "text",
    x: 927,
    y: 480,
    style: { text: PANEL_LABELS[1], fill: "#000", font: `24px "Liberation Serif", "DejaVu Serif", serif`, ...centered },
  });

  return {
    animation: false,
    backgroundColor: "#ffffff",
    grid,
    xAxis,
    yAxis,
    series,
    graphic,
  };
}

export default function App() {
  const ref = useRef<HTMLDivElement>(null);
  useEffect(() => {
    if (!ref.current) return;
    const chart = echarts.init(ref.current, undefined, { renderer: "svg" });
    chart.setOption(buildOption() as any);
    return () => chart.dispose();
  }, []);
  return (
    <div
      ref={ref}
      style={{ position: "absolute", left: 0, top: 0, width: 1196, height: 504, background: "#fff" }}
    />
  );
}
